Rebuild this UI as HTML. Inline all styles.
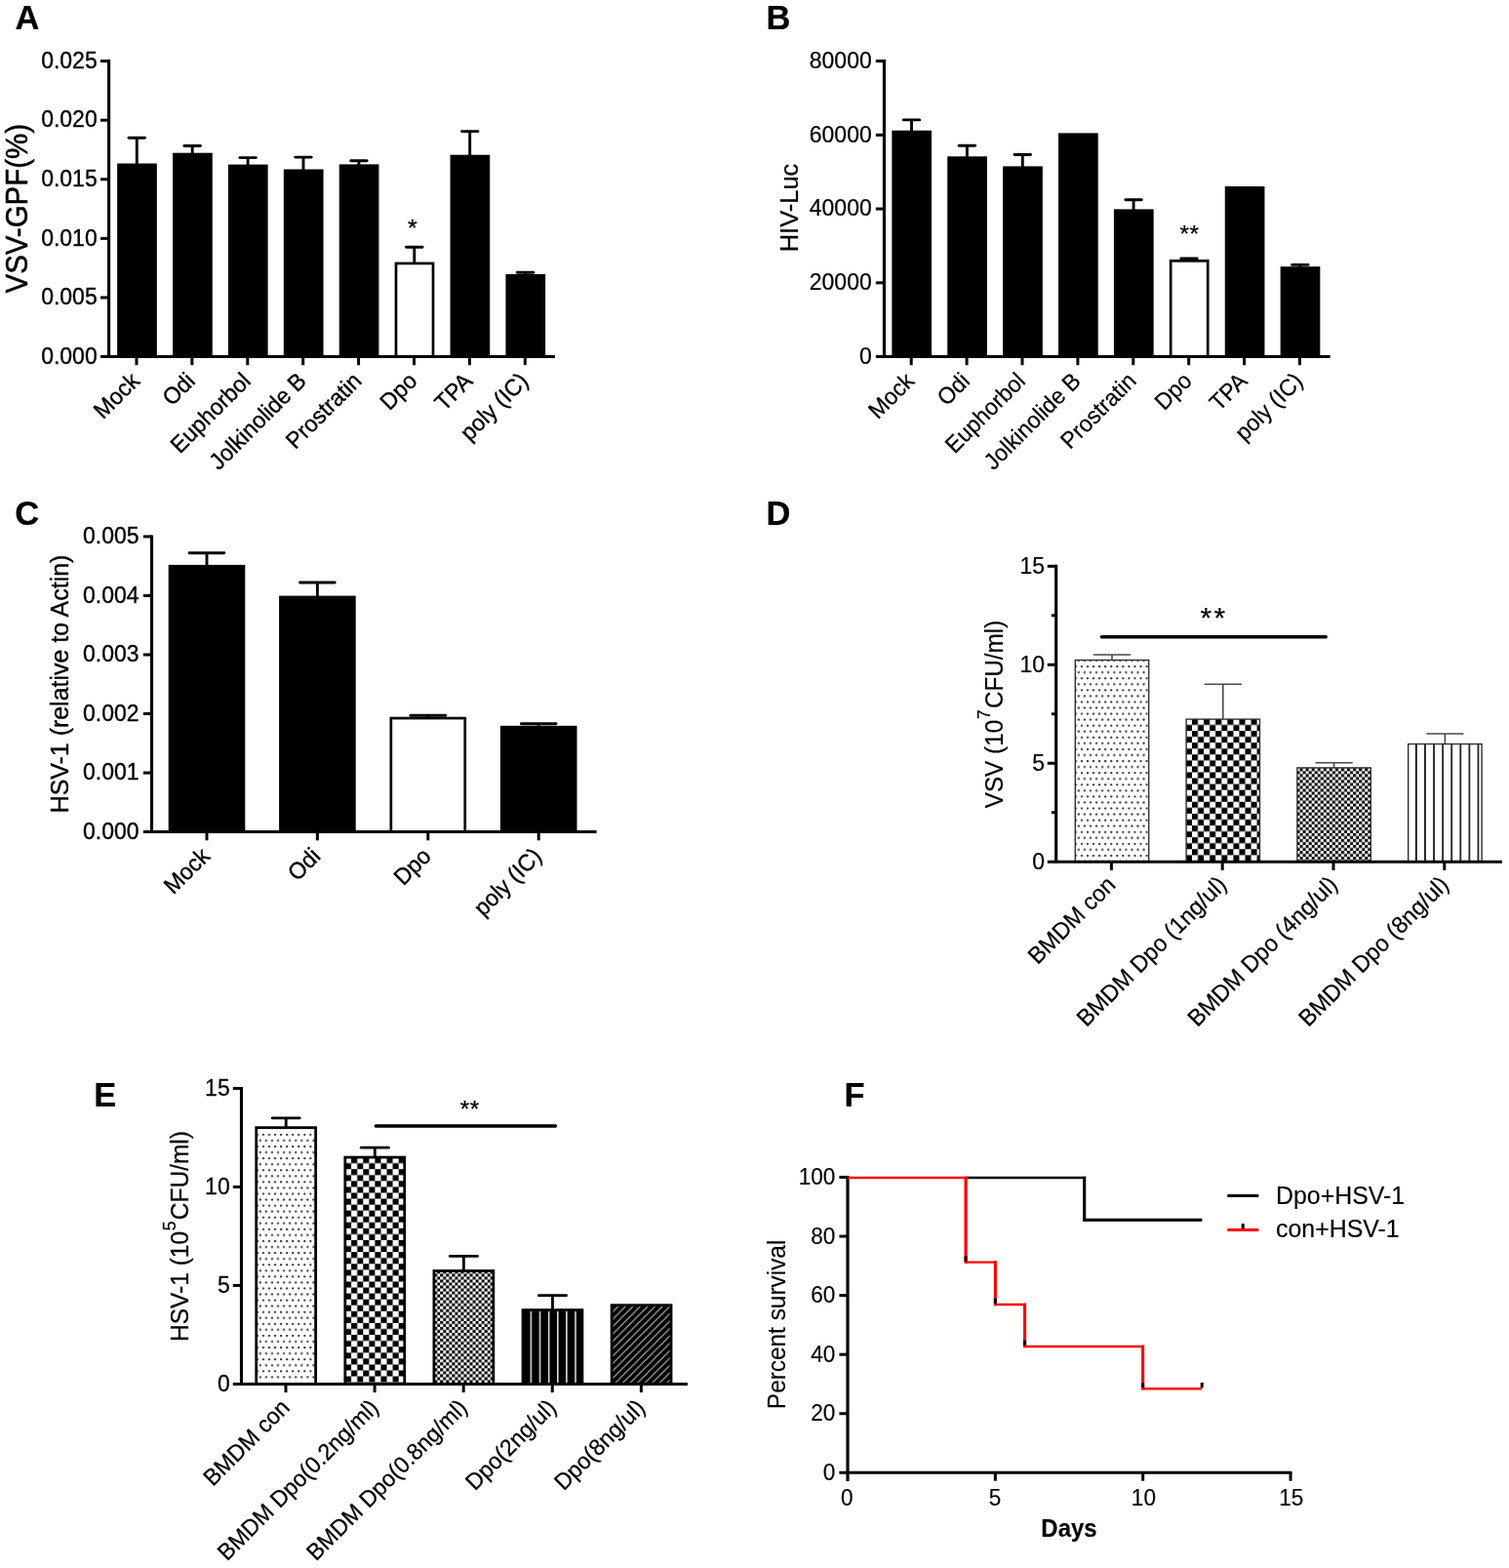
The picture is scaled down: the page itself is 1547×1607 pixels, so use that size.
<!DOCTYPE html>
<html lang="en">
<head>
<meta charset="utf-8">
<title>Figure</title>
<style>html,body{margin:0;padding:0;background:#fff}svg{display:block}</style>
</head>
<body>
<svg width="1547" height="1607" viewBox="0 0 1547 1607" font-family='"Liberation Sans", Arial, Helvetica, sans-serif' fill="#000">
<defs>
<pattern id="dotD" patternUnits="userSpaceOnUse" x="1107.94" y="682.08" width="6.06" height="12.12"><circle cx="1" cy="1" r="1.15" fill="#333"/><circle cx="4.030" cy="7.060" r="1.15" fill="#333"/></pattern>
<pattern id="chkD" patternUnits="userSpaceOnUse" x="1221.94" y="736.87" width="12.126" height="12.126"><rect x="0" y="0" width="6.063" height="6.063" fill="#000"/><rect x="6.063" y="6.063" width="6.063" height="6.063" fill="#000"/></pattern>
<pattern id="fchkD" patternUnits="userSpaceOnUse" x="1332.57" y="787.23" width="6.06" height="6.06"><rect x="0" y="0" width="3.03" height="3.03" fill="#000"/><rect x="3.03" y="3.03" width="3.03" height="3.03" fill="#000"/></pattern>
<pattern id="dotE" patternUnits="userSpaceOnUse" x="268.90" y="1161.93" width="6.06" height="12.12"><circle cx="1" cy="1" r="1.15" fill="#333"/><circle cx="4.030" cy="7.060" r="1.15" fill="#333"/></pattern>
<pattern id="chkE" patternUnits="userSpaceOnUse" x="360.14" y="1186.07" width="12.134" height="12.134"><rect x="0" y="0" width="6.067" height="6.067" fill="#000"/><rect x="6.067" y="6.067" width="6.067" height="6.067" fill="#000"/></pattern>
<pattern id="fchkE" patternUnits="userSpaceOnUse" x="451.22" y="1305.38" width="6.06" height="6.06"><rect x="0" y="0" width="3.03" height="3.03" fill="#000"/><rect x="3.03" y="3.03" width="3.03" height="3.03" fill="#000"/></pattern>
<pattern id="vstrD" patternUnits="userSpaceOnUse" x="1451.03" y="0" width="9.08" height="20"><rect x="0" y="0" width="1.7" height="20" fill="#111"/></pattern>
<pattern id="vstrE" patternUnits="userSpaceOnUse" x="543.55" y="0" width="9.15" height="20"><rect x="0" y="0" width="1.5" height="20" fill="#e8e8e8"/></pattern>
<pattern id="diagE" patternUnits="userSpaceOnUse" x="631.7" y="1416.5" width="7.56" height="7.56"><path d="M-1,1 L1,-1 M0,7.56 L7.56,0 M6.56,8.56 L8.56,6.56" stroke="#c8c8c8" stroke-width="1.1" fill="none"/></pattern>
</defs>
<rect x="0" y="0" width="1547" height="1607" fill="#fff"/>
<text transform="translate(15.50 30.30)" font-size="34.5" text-anchor="start" font-weight="bold" stroke="#000" stroke-width="0.2" stroke-linejoin="round">A</text>
<text transform="translate(785.50 30.30)" font-size="34.5" text-anchor="start" font-weight="bold" stroke="#000" stroke-width="0.2" stroke-linejoin="round">B</text>
<text transform="translate(15.20 537.50)" font-size="34.5" text-anchor="start" font-weight="bold" stroke="#000" stroke-width="0.2" stroke-linejoin="round">C</text>
<text transform="translate(785.50 537.50)" font-size="34.5" text-anchor="start" font-weight="bold" stroke="#000" stroke-width="0.2" stroke-linejoin="round">D</text>
<text transform="translate(96.20 1134.20)" font-size="34.5" text-anchor="start" font-weight="bold" stroke="#000" stroke-width="0.2" stroke-linejoin="round">E</text>
<text transform="translate(865.50 1134.00)" font-size="34.5" text-anchor="start" font-weight="bold" stroke="#000" stroke-width="0.2" stroke-linejoin="round">F</text>
<line x1="140.29" y1="141.20" x2="140.29" y2="168.50" stroke="#000" stroke-width="2.9" stroke-linecap="butt"/>
<line x1="132.05" y1="141.20" x2="148.53" y2="141.20" stroke="#000" stroke-width="2.9" stroke-linecap="round"/>
<rect x="120.14" y="167.50" width="40.70" height="198.05" fill="#000"/>
<line x1="197.19" y1="149.50" x2="197.19" y2="157.70" stroke="#000" stroke-width="2.9" stroke-linecap="butt"/>
<line x1="188.95" y1="149.50" x2="205.43" y2="149.50" stroke="#000" stroke-width="2.9" stroke-linecap="round"/>
<rect x="177.04" y="156.70" width="40.70" height="208.85" fill="#000"/>
<line x1="254.09" y1="161.60" x2="254.09" y2="169.60" stroke="#000" stroke-width="2.9" stroke-linecap="butt"/>
<line x1="245.85" y1="161.60" x2="262.33" y2="161.60" stroke="#000" stroke-width="2.9" stroke-linecap="round"/>
<rect x="233.94" y="168.60" width="40.70" height="196.95" fill="#000"/>
<line x1="310.99" y1="161.10" x2="310.99" y2="174.50" stroke="#000" stroke-width="2.9" stroke-linecap="butt"/>
<line x1="302.75" y1="161.10" x2="319.23" y2="161.10" stroke="#000" stroke-width="2.9" stroke-linecap="round"/>
<rect x="290.84" y="173.50" width="40.70" height="192.05" fill="#000"/>
<line x1="367.89" y1="164.70" x2="367.89" y2="169.40" stroke="#000" stroke-width="2.9" stroke-linecap="butt"/>
<line x1="359.65" y1="164.70" x2="376.13" y2="164.70" stroke="#000" stroke-width="2.9" stroke-linecap="round"/>
<rect x="347.74" y="168.40" width="40.70" height="197.15" fill="#000"/>
<line x1="424.79" y1="253.30" x2="424.79" y2="269.60" stroke="#000" stroke-width="2.9" stroke-linecap="butt"/>
<line x1="416.55" y1="253.30" x2="433.03" y2="253.30" stroke="#000" stroke-width="2.9" stroke-linecap="round"/>
<rect x="405.99" y="269.95" width="38.00" height="95.60" fill="#fff" stroke="#000" stroke-width="2.7"/>
<line x1="481.69" y1="134.60" x2="481.69" y2="159.70" stroke="#000" stroke-width="2.9" stroke-linecap="butt"/>
<line x1="473.45" y1="134.60" x2="489.93" y2="134.60" stroke="#000" stroke-width="2.9" stroke-linecap="round"/>
<rect x="461.54" y="158.70" width="40.70" height="206.85" fill="#000"/>
<line x1="538.59" y1="279.30" x2="538.59" y2="282.00" stroke="#000" stroke-width="2.9" stroke-linecap="butt"/>
<line x1="530.35" y1="279.30" x2="546.83" y2="279.30" stroke="#000" stroke-width="2.9" stroke-linecap="round"/>
<rect x="518.44" y="281.00" width="40.70" height="84.55" fill="#000"/>
<line x1="111.60" y1="61.10" x2="111.60" y2="366.55" stroke="#000" stroke-width="3.15" stroke-linecap="butt"/>
<line x1="103.00" y1="365.55" x2="568.90" y2="365.55" stroke="#000" stroke-width="3.0" stroke-linecap="butt"/>
<line x1="103.00" y1="62.60" x2="111.60" y2="62.60" stroke="#000" stroke-width="3.0" stroke-linecap="butt"/>
<line x1="103.00" y1="123.19" x2="111.60" y2="123.19" stroke="#000" stroke-width="3.0" stroke-linecap="butt"/>
<line x1="103.00" y1="183.78" x2="111.60" y2="183.78" stroke="#000" stroke-width="3.0" stroke-linecap="butt"/>
<line x1="103.00" y1="244.37" x2="111.60" y2="244.37" stroke="#000" stroke-width="3.0" stroke-linecap="butt"/>
<line x1="103.00" y1="304.96" x2="111.60" y2="304.96" stroke="#000" stroke-width="3.0" stroke-linecap="butt"/>
<line x1="139.99" y1="365.55" x2="139.99" y2="374.25" stroke="#000" stroke-width="3.0" stroke-linecap="butt"/>
<line x1="196.89" y1="365.55" x2="196.89" y2="374.25" stroke="#000" stroke-width="3.0" stroke-linecap="butt"/>
<line x1="253.79" y1="365.55" x2="253.79" y2="374.25" stroke="#000" stroke-width="3.0" stroke-linecap="butt"/>
<line x1="310.69" y1="365.55" x2="310.69" y2="374.25" stroke="#000" stroke-width="3.0" stroke-linecap="butt"/>
<line x1="367.59" y1="365.55" x2="367.59" y2="374.25" stroke="#000" stroke-width="3.0" stroke-linecap="butt"/>
<line x1="424.49" y1="365.55" x2="424.49" y2="374.25" stroke="#000" stroke-width="3.0" stroke-linecap="butt"/>
<line x1="481.39" y1="365.55" x2="481.39" y2="374.25" stroke="#000" stroke-width="3.0" stroke-linecap="butt"/>
<line x1="538.29" y1="365.55" x2="538.29" y2="374.25" stroke="#000" stroke-width="3.0" stroke-linecap="butt"/>
<text transform="translate(99.70 69.80) scale(1.0 1.04)" font-size="23.0" text-anchor="end" font-weight="normal" stroke="#000" stroke-width="0.35" stroke-linejoin="round">0.025</text>
<text transform="translate(99.70 130.39) scale(1.0 1.04)" font-size="23.0" text-anchor="end" font-weight="normal" stroke="#000" stroke-width="0.35" stroke-linejoin="round">0.020</text>
<text transform="translate(99.70 190.98) scale(1.0 1.04)" font-size="23.0" text-anchor="end" font-weight="normal" stroke="#000" stroke-width="0.35" stroke-linejoin="round">0.015</text>
<text transform="translate(99.70 251.57) scale(1.0 1.04)" font-size="23.0" text-anchor="end" font-weight="normal" stroke="#000" stroke-width="0.35" stroke-linejoin="round">0.010</text>
<text transform="translate(99.70 312.16) scale(1.0 1.04)" font-size="23.0" text-anchor="end" font-weight="normal" stroke="#000" stroke-width="0.35" stroke-linejoin="round">0.005</text>
<text transform="translate(99.70 372.75) scale(1.0 1.04)" font-size="23.0" text-anchor="end" font-weight="normal" stroke="#000" stroke-width="0.35" stroke-linejoin="round">0.000</text>
<text transform="translate(144.49 391.85) rotate(-45) scale(1.0 1.04)" font-size="22.9" text-anchor="end" font-weight="normal" stroke="#000" stroke-width="0.35" stroke-linejoin="round">Mock</text>
<text transform="translate(201.39 391.85) rotate(-45) scale(1.0 1.04)" font-size="22.9" text-anchor="end" font-weight="normal" stroke="#000" stroke-width="0.35" stroke-linejoin="round">Odi</text>
<text transform="translate(258.29 391.85) rotate(-45) scale(1.0 1.04)" font-size="22.9" text-anchor="end" font-weight="normal" stroke="#000" stroke-width="0.35" stroke-linejoin="round">Euphorbol</text>
<text transform="translate(315.19 391.85) rotate(-45) scale(1.0 1.04)" font-size="22.9" text-anchor="end" font-weight="normal" stroke="#000" stroke-width="0.35" stroke-linejoin="round">Jolkinolide B</text>
<text transform="translate(372.09 391.85) rotate(-45) scale(1.0 1.04)" font-size="22.9" text-anchor="end" font-weight="normal" stroke="#000" stroke-width="0.35" stroke-linejoin="round">Prostratin</text>
<text transform="translate(428.99 391.85) rotate(-45) scale(1.0 1.04)" font-size="22.9" text-anchor="end" font-weight="normal" stroke="#000" stroke-width="0.35" stroke-linejoin="round">Dpo</text>
<text transform="translate(485.89 391.85) rotate(-45) scale(1.0 1.04)" font-size="22.9" text-anchor="end" font-weight="normal" stroke="#000" stroke-width="0.35" stroke-linejoin="round">TPA</text>
<text transform="translate(542.79 391.85) rotate(-45) scale(1.0 1.04)" font-size="22.9" text-anchor="end" font-weight="normal" stroke="#000" stroke-width="0.35" stroke-linejoin="round">poly (IC)</text>
<text transform="translate(27.60 213.70) rotate(-90) scale(1.0 1.04)" font-size="29.5" text-anchor="middle" font-weight="normal" stroke="#000" stroke-width="0.5" stroke-linejoin="round">VSV-GPF(%)</text>
<text transform="translate(422.90 242.10)" font-size="24.8" text-anchor="middle" font-weight="normal" stroke="#000" stroke-width="0.35" stroke-linejoin="round">*</text>
<line x1="934.50" y1="122.90" x2="934.50" y2="134.70" stroke="#000" stroke-width="2.9" stroke-linecap="butt"/>
<line x1="926.26" y1="122.90" x2="942.74" y2="122.90" stroke="#000" stroke-width="2.9" stroke-linecap="round"/>
<rect x="914.35" y="133.70" width="40.70" height="231.85" fill="#000"/>
<line x1="991.40" y1="149.20" x2="991.40" y2="161.30" stroke="#000" stroke-width="2.9" stroke-linecap="butt"/>
<line x1="983.16" y1="149.20" x2="999.64" y2="149.20" stroke="#000" stroke-width="2.9" stroke-linecap="round"/>
<rect x="971.25" y="160.30" width="40.70" height="205.25" fill="#000"/>
<line x1="1048.30" y1="158.50" x2="1048.30" y2="171.40" stroke="#000" stroke-width="2.9" stroke-linecap="butt"/>
<line x1="1040.06" y1="158.50" x2="1056.54" y2="158.50" stroke="#000" stroke-width="2.9" stroke-linecap="round"/>
<rect x="1028.15" y="170.40" width="40.70" height="195.15" fill="#000"/>
<rect x="1085.05" y="136.40" width="40.70" height="229.15" fill="#000"/>
<line x1="1162.10" y1="204.80" x2="1162.10" y2="215.40" stroke="#000" stroke-width="2.9" stroke-linecap="butt"/>
<line x1="1153.86" y1="204.80" x2="1170.34" y2="204.80" stroke="#000" stroke-width="2.9" stroke-linecap="round"/>
<rect x="1141.95" y="214.40" width="40.70" height="151.15" fill="#000"/>
<line x1="1219.00" y1="265.00" x2="1219.00" y2="267.00" stroke="#000" stroke-width="2.9" stroke-linecap="butt"/>
<line x1="1210.76" y1="265.00" x2="1227.24" y2="265.00" stroke="#000" stroke-width="2.9" stroke-linecap="round"/>
<rect x="1200.20" y="267.35" width="38.00" height="98.20" fill="#fff" stroke="#000" stroke-width="2.7"/>
<rect x="1255.75" y="191.00" width="40.70" height="174.55" fill="#000"/>
<line x1="1332.80" y1="271.40" x2="1332.80" y2="274.20" stroke="#000" stroke-width="2.9" stroke-linecap="butt"/>
<line x1="1324.56" y1="271.40" x2="1341.04" y2="271.40" stroke="#000" stroke-width="2.9" stroke-linecap="round"/>
<rect x="1312.65" y="273.20" width="40.70" height="92.35" fill="#000"/>
<line x1="906.45" y1="61.10" x2="906.45" y2="366.55" stroke="#000" stroke-width="3.15" stroke-linecap="butt"/>
<line x1="897.85" y1="365.55" x2="1363.70" y2="365.55" stroke="#000" stroke-width="3.0" stroke-linecap="butt"/>
<line x1="897.85" y1="62.60" x2="906.45" y2="62.60" stroke="#000" stroke-width="3.0" stroke-linecap="butt"/>
<line x1="897.85" y1="138.34" x2="906.45" y2="138.34" stroke="#000" stroke-width="3.0" stroke-linecap="butt"/>
<line x1="897.85" y1="214.07" x2="906.45" y2="214.07" stroke="#000" stroke-width="3.0" stroke-linecap="butt"/>
<line x1="897.85" y1="289.81" x2="906.45" y2="289.81" stroke="#000" stroke-width="3.0" stroke-linecap="butt"/>
<line x1="934.20" y1="365.55" x2="934.20" y2="374.25" stroke="#000" stroke-width="3.0" stroke-linecap="butt"/>
<line x1="991.10" y1="365.55" x2="991.10" y2="374.25" stroke="#000" stroke-width="3.0" stroke-linecap="butt"/>
<line x1="1048.00" y1="365.55" x2="1048.00" y2="374.25" stroke="#000" stroke-width="3.0" stroke-linecap="butt"/>
<line x1="1104.90" y1="365.55" x2="1104.90" y2="374.25" stroke="#000" stroke-width="3.0" stroke-linecap="butt"/>
<line x1="1161.80" y1="365.55" x2="1161.80" y2="374.25" stroke="#000" stroke-width="3.0" stroke-linecap="butt"/>
<line x1="1218.70" y1="365.55" x2="1218.70" y2="374.25" stroke="#000" stroke-width="3.0" stroke-linecap="butt"/>
<line x1="1275.60" y1="365.55" x2="1275.60" y2="374.25" stroke="#000" stroke-width="3.0" stroke-linecap="butt"/>
<line x1="1332.50" y1="365.55" x2="1332.50" y2="374.25" stroke="#000" stroke-width="3.0" stroke-linecap="butt"/>
<text transform="translate(893.70 69.80) scale(1.0 1.04)" font-size="23.0" text-anchor="end" font-weight="normal" stroke="#000" stroke-width="0.22" stroke-linejoin="round">80000</text>
<text transform="translate(893.70 145.54) scale(1.0 1.04)" font-size="23.0" text-anchor="end" font-weight="normal" stroke="#000" stroke-width="0.22" stroke-linejoin="round">60000</text>
<text transform="translate(893.70 221.27) scale(1.0 1.04)" font-size="23.0" text-anchor="end" font-weight="normal" stroke="#000" stroke-width="0.22" stroke-linejoin="round">40000</text>
<text transform="translate(893.70 297.01) scale(1.0 1.04)" font-size="23.0" text-anchor="end" font-weight="normal" stroke="#000" stroke-width="0.22" stroke-linejoin="round">20000</text>
<text transform="translate(893.70 372.75) scale(1.0 1.04)" font-size="23.0" text-anchor="end" font-weight="normal" stroke="#000" stroke-width="0.22" stroke-linejoin="round">0</text>
<text transform="translate(938.70 391.85) rotate(-45) scale(1.0 1.04)" font-size="22.9" text-anchor="end" font-weight="normal" stroke="#000" stroke-width="0.22" stroke-linejoin="round">Mock</text>
<text transform="translate(995.60 391.85) rotate(-45) scale(1.0 1.04)" font-size="22.9" text-anchor="end" font-weight="normal" stroke="#000" stroke-width="0.22" stroke-linejoin="round">Odi</text>
<text transform="translate(1052.50 391.85) rotate(-45) scale(1.0 1.04)" font-size="22.9" text-anchor="end" font-weight="normal" stroke="#000" stroke-width="0.22" stroke-linejoin="round">Euphorbol</text>
<text transform="translate(1109.40 391.85) rotate(-45) scale(1.0 1.04)" font-size="22.9" text-anchor="end" font-weight="normal" stroke="#000" stroke-width="0.22" stroke-linejoin="round">Jolkinolide B</text>
<text transform="translate(1166.30 391.85) rotate(-45) scale(1.0 1.04)" font-size="22.9" text-anchor="end" font-weight="normal" stroke="#000" stroke-width="0.22" stroke-linejoin="round">Prostratin</text>
<text transform="translate(1223.20 391.85) rotate(-45) scale(1.0 1.04)" font-size="22.9" text-anchor="end" font-weight="normal" stroke="#000" stroke-width="0.22" stroke-linejoin="round">Dpo</text>
<text transform="translate(1280.10 391.85) rotate(-45) scale(1.0 1.04)" font-size="22.9" text-anchor="end" font-weight="normal" stroke="#000" stroke-width="0.22" stroke-linejoin="round">TPA</text>
<text transform="translate(1337.00 391.85) rotate(-45) scale(1.0 1.04)" font-size="22.9" text-anchor="end" font-weight="normal" stroke="#000" stroke-width="0.22" stroke-linejoin="round">poly (IC)</text>
<text transform="translate(818.40 213.00) rotate(-90) scale(1.0 1.04)" font-size="25.5" text-anchor="middle" font-weight="normal" stroke="#000" stroke-width="0.22" stroke-linejoin="round">HIV-Luc</text>
<text transform="translate(1219.60 247.60)" font-size="24.5" text-anchor="middle" font-weight="normal" stroke="#000" stroke-width="0.22" stroke-linejoin="round" letter-spacing="0.6">**</text>
<line x1="212.00" y1="566.80" x2="212.00" y2="579.90" stroke="#000" stroke-width="2.9" stroke-linecap="butt"/>
<line x1="194.16" y1="566.80" x2="229.84" y2="566.80" stroke="#000" stroke-width="2.9" stroke-linecap="round"/>
<rect x="172.70" y="578.90" width="78.60" height="273.70" fill="#000"/>
<line x1="325.40" y1="597.00" x2="325.40" y2="611.60" stroke="#000" stroke-width="2.9" stroke-linecap="butt"/>
<line x1="307.56" y1="597.00" x2="343.24" y2="597.00" stroke="#000" stroke-width="2.9" stroke-linecap="round"/>
<rect x="286.10" y="610.60" width="78.60" height="242.00" fill="#000"/>
<line x1="438.80" y1="733.30" x2="438.80" y2="735.70" stroke="#000" stroke-width="2.9" stroke-linecap="butt"/>
<line x1="420.96" y1="733.30" x2="456.64" y2="733.30" stroke="#000" stroke-width="2.9" stroke-linecap="round"/>
<rect x="400.85" y="736.05" width="75.90" height="116.55" fill="#fff" stroke="#000" stroke-width="2.7"/>
<line x1="552.20" y1="741.70" x2="552.20" y2="744.80" stroke="#000" stroke-width="2.9" stroke-linecap="butt"/>
<line x1="534.36" y1="741.70" x2="570.04" y2="741.70" stroke="#000" stroke-width="2.9" stroke-linecap="round"/>
<rect x="512.90" y="743.80" width="78.60" height="108.80" fill="#000"/>
<line x1="155.50" y1="548.40" x2="155.50" y2="853.60" stroke="#000" stroke-width="3.15" stroke-linecap="butt"/>
<line x1="146.90" y1="852.60" x2="611.60" y2="852.60" stroke="#000" stroke-width="3.0" stroke-linecap="butt"/>
<line x1="146.90" y1="549.90" x2="155.50" y2="549.90" stroke="#000" stroke-width="3.0" stroke-linecap="butt"/>
<line x1="146.90" y1="610.44" x2="155.50" y2="610.44" stroke="#000" stroke-width="3.0" stroke-linecap="butt"/>
<line x1="146.90" y1="670.98" x2="155.50" y2="670.98" stroke="#000" stroke-width="3.0" stroke-linecap="butt"/>
<line x1="146.90" y1="731.52" x2="155.50" y2="731.52" stroke="#000" stroke-width="3.0" stroke-linecap="butt"/>
<line x1="146.90" y1="792.06" x2="155.50" y2="792.06" stroke="#000" stroke-width="3.0" stroke-linecap="butt"/>
<line x1="212.00" y1="852.60" x2="212.00" y2="861.30" stroke="#000" stroke-width="3.0" stroke-linecap="butt"/>
<line x1="325.40" y1="852.60" x2="325.40" y2="861.30" stroke="#000" stroke-width="3.0" stroke-linecap="butt"/>
<line x1="438.80" y1="852.60" x2="438.80" y2="861.30" stroke="#000" stroke-width="3.0" stroke-linecap="butt"/>
<line x1="552.20" y1="852.60" x2="552.20" y2="861.30" stroke="#000" stroke-width="3.0" stroke-linecap="butt"/>
<text transform="translate(142.50 557.30) scale(1.0 1.04)" font-size="23.0" text-anchor="end" font-weight="normal" stroke="#000" stroke-width="0.35" stroke-linejoin="round">0.005</text>
<text transform="translate(142.50 617.84) scale(1.0 1.04)" font-size="23.0" text-anchor="end" font-weight="normal" stroke="#000" stroke-width="0.35" stroke-linejoin="round">0.004</text>
<text transform="translate(142.50 678.38) scale(1.0 1.04)" font-size="23.0" text-anchor="end" font-weight="normal" stroke="#000" stroke-width="0.35" stroke-linejoin="round">0.003</text>
<text transform="translate(142.50 738.92) scale(1.0 1.04)" font-size="23.0" text-anchor="end" font-weight="normal" stroke="#000" stroke-width="0.35" stroke-linejoin="round">0.002</text>
<text transform="translate(142.50 799.46) scale(1.0 1.04)" font-size="23.0" text-anchor="end" font-weight="normal" stroke="#000" stroke-width="0.35" stroke-linejoin="round">0.001</text>
<text transform="translate(142.50 860.00) scale(1.0 1.04)" font-size="23.0" text-anchor="end" font-weight="normal" stroke="#000" stroke-width="0.35" stroke-linejoin="round">0.000</text>
<text transform="translate(216.50 878.90) rotate(-45) scale(1.0 1.04)" font-size="22.9" text-anchor="end" font-weight="normal" stroke="#000" stroke-width="0.35" stroke-linejoin="round">Mock</text>
<text transform="translate(329.90 878.90) rotate(-45) scale(1.0 1.04)" font-size="22.9" text-anchor="end" font-weight="normal" stroke="#000" stroke-width="0.35" stroke-linejoin="round">Odi</text>
<text transform="translate(443.30 878.90) rotate(-45) scale(1.0 1.04)" font-size="22.9" text-anchor="end" font-weight="normal" stroke="#000" stroke-width="0.35" stroke-linejoin="round">Dpo</text>
<text transform="translate(556.70 878.90) rotate(-45) scale(1.0 1.04)" font-size="22.9" text-anchor="end" font-weight="normal" stroke="#000" stroke-width="0.35" stroke-linejoin="round">poly (IC)</text>
<text transform="translate(69.80 701.00) rotate(-90) scale(1.0 1.04)" font-size="24.95" text-anchor="middle" font-weight="normal" stroke="#000" stroke-width="0.35" stroke-linejoin="round">HSV-1 (relative to Actin)</text>
<line x1="1140.00" y1="671.00" x2="1140.00" y2="676.90" stroke="#4a4a4a" stroke-width="1.6" stroke-linecap="butt"/>
<line x1="1121.44" y1="671.00" x2="1158.56" y2="671.00" stroke="#4a4a4a" stroke-width="1.6" stroke-linecap="round"/>
<rect x="1102.30" y="676.50" width="75.40" height="206.70" fill="#fff"/>
<rect x="1102.30" y="676.50" width="75.40" height="206.70" fill="url(#dotD)" stroke="#2a2a2a" stroke-width="1.35"/>
<line x1="1253.80" y1="701.30" x2="1253.80" y2="737.50" stroke="#4a4a4a" stroke-width="1.6" stroke-linecap="butt"/>
<line x1="1235.24" y1="701.30" x2="1272.36" y2="701.30" stroke="#4a4a4a" stroke-width="1.6" stroke-linecap="round"/>
<rect x="1216.10" y="737.10" width="75.40" height="146.10" fill="#fff"/>
<rect x="1216.10" y="737.10" width="75.40" height="146.10" fill="url(#chkD)" stroke="#2a2a2a" stroke-width="1.35"/>
<line x1="1367.60" y1="781.70" x2="1367.60" y2="787.30" stroke="#4a4a4a" stroke-width="1.6" stroke-linecap="butt"/>
<line x1="1349.04" y1="781.70" x2="1386.16" y2="781.70" stroke="#4a4a4a" stroke-width="1.6" stroke-linecap="round"/>
<rect x="1329.90" y="786.90" width="75.40" height="96.30" fill="#fff"/>
<rect x="1329.90" y="786.90" width="75.40" height="96.30" fill="url(#fchkD)" stroke="#2a2a2a" stroke-width="1.35"/>
<line x1="1481.40" y1="752.00" x2="1481.40" y2="762.90" stroke="#4a4a4a" stroke-width="1.6" stroke-linecap="butt"/>
<line x1="1462.84" y1="752.00" x2="1499.96" y2="752.00" stroke="#4a4a4a" stroke-width="1.6" stroke-linecap="round"/>
<rect x="1443.70" y="762.50" width="75.40" height="120.70" fill="#fff"/>
<rect x="1443.70" y="762.50" width="75.40" height="120.70" fill="url(#vstrD)" stroke="#2a2a2a" stroke-width="1.35"/>
<line x1="1082.70" y1="578.80" x2="1082.70" y2="884.20" stroke="#000" stroke-width="3.15" stroke-linecap="butt"/>
<line x1="1073.80" y1="883.20" x2="1540.00" y2="883.20" stroke="#000" stroke-width="3.0" stroke-linecap="butt"/>
<line x1="1073.80" y1="580.30" x2="1082.70" y2="580.30" stroke="#000" stroke-width="3.0" stroke-linecap="butt"/>
<line x1="1073.80" y1="681.27" x2="1082.70" y2="681.27" stroke="#000" stroke-width="3.0" stroke-linecap="butt"/>
<line x1="1073.80" y1="782.23" x2="1082.70" y2="782.23" stroke="#000" stroke-width="3.0" stroke-linecap="butt"/>
<line x1="1077.90" y1="630.78" x2="1082.70" y2="630.78" stroke="#000" stroke-width="2.9" stroke-linecap="butt"/>
<line x1="1077.90" y1="731.75" x2="1082.70" y2="731.75" stroke="#000" stroke-width="2.9" stroke-linecap="butt"/>
<line x1="1077.90" y1="832.72" x2="1082.70" y2="832.72" stroke="#000" stroke-width="2.9" stroke-linecap="butt"/>
<line x1="1139.40" y1="883.20" x2="1139.40" y2="891.90" stroke="#000" stroke-width="3.0" stroke-linecap="butt"/>
<line x1="1253.20" y1="883.20" x2="1253.20" y2="891.90" stroke="#000" stroke-width="3.0" stroke-linecap="butt"/>
<line x1="1367.00" y1="883.20" x2="1367.00" y2="891.90" stroke="#000" stroke-width="3.0" stroke-linecap="butt"/>
<line x1="1480.80" y1="883.20" x2="1480.80" y2="891.90" stroke="#000" stroke-width="3.0" stroke-linecap="butt"/>
<text transform="translate(1071.00 587.70) scale(1.0 1.04)" font-size="23.0" text-anchor="end" font-weight="normal" stroke="#000" stroke-width="0.2" stroke-linejoin="round">15</text>
<text transform="translate(1071.00 688.67) scale(1.0 1.04)" font-size="23.0" text-anchor="end" font-weight="normal" stroke="#000" stroke-width="0.2" stroke-linejoin="round">10</text>
<text transform="translate(1071.00 789.63) scale(1.0 1.04)" font-size="23.0" text-anchor="end" font-weight="normal" stroke="#000" stroke-width="0.2" stroke-linejoin="round">5</text>
<text transform="translate(1071.00 890.60) scale(1.0 1.04)" font-size="23.0" text-anchor="end" font-weight="normal" stroke="#000" stroke-width="0.2" stroke-linejoin="round">0</text>
<text transform="translate(1145.00 908.10) rotate(-45) scale(1.0 1.04)" font-size="23.25" text-anchor="end" font-weight="normal" stroke="#000" stroke-width="0.2" stroke-linejoin="round">BMDM con</text>
<text transform="translate(1258.80 908.10) rotate(-45) scale(1.0 1.04)" font-size="23.25" text-anchor="end" font-weight="normal" stroke="#000" stroke-width="0.2" stroke-linejoin="round">BMDM Dpo (1ng/ul)</text>
<text transform="translate(1372.60 908.10) rotate(-45) scale(1.0 1.04)" font-size="23.25" text-anchor="end" font-weight="normal" stroke="#000" stroke-width="0.2" stroke-linejoin="round">BMDM Dpo (4ng/ul)</text>
<text transform="translate(1486.40 908.10) rotate(-45) scale(1.0 1.04)" font-size="23.25" text-anchor="end" font-weight="normal" stroke="#000" stroke-width="0.2" stroke-linejoin="round">BMDM Dpo (8ng/ul)</text>
<text transform="translate(1028.10 732.00) rotate(-90) scale(1.0 1.04)" font-size="24.3" text-anchor="middle" font-weight="normal" stroke="#000" stroke-width="0.2" stroke-linejoin="round">VSV (10<tspan font-size="17.5" dy="-12.3" dx="0.8">7</tspan><tspan dy="12.3" dx="1.2">CFU/ml)</tspan></text>
<line x1="1129.40" y1="652.70" x2="1359.30" y2="652.70" stroke="#000" stroke-width="3.4" stroke-linecap="round"/>
<text transform="translate(1244.60 642.90)" font-size="30" text-anchor="middle" font-weight="normal" stroke="#000" stroke-width="0.2" stroke-linejoin="round" letter-spacing="2.4">**</text>
<line x1="293.20" y1="1145.80" x2="293.20" y2="1155.30" stroke="#000" stroke-width="2.8" stroke-linecap="butt"/>
<line x1="279.12" y1="1145.80" x2="307.28" y2="1145.80" stroke="#000" stroke-width="2.8" stroke-linecap="round"/>
<rect x="262.75" y="1155.70" width="60.90" height="262.70" fill="#fff"/>
<rect x="262.75" y="1159.30" width="60.90" height="255.90" fill="url(#dotE)"/>
<rect x="262.75" y="1155.70" width="60.90" height="262.70" fill="none" stroke="#000" stroke-width="2.8"/>
<line x1="384.29" y1="1176.20" x2="384.29" y2="1185.70" stroke="#000" stroke-width="2.8" stroke-linecap="butt"/>
<line x1="370.21" y1="1176.20" x2="398.37" y2="1176.20" stroke="#000" stroke-width="2.8" stroke-linecap="round"/>
<rect x="353.84" y="1186.10" width="60.90" height="232.30" fill="#fff"/>
<rect x="353.84" y="1186.10" width="60.90" height="232.30" fill="url(#chkE)"/>
<rect x="353.84" y="1186.10" width="60.90" height="232.30" fill="none" stroke="#000" stroke-width="2.8"/>
<line x1="475.38" y1="1287.40" x2="475.38" y2="1302.10" stroke="#000" stroke-width="2.8" stroke-linecap="butt"/>
<line x1="461.30" y1="1287.40" x2="489.46" y2="1287.40" stroke="#000" stroke-width="2.8" stroke-linecap="round"/>
<rect x="444.93" y="1302.50" width="60.90" height="115.90" fill="#fff"/>
<rect x="444.93" y="1302.50" width="60.90" height="115.90" fill="url(#fchkE)"/>
<rect x="444.93" y="1302.50" width="60.90" height="115.90" fill="none" stroke="#000" stroke-width="2.8"/>
<line x1="566.47" y1="1327.70" x2="566.47" y2="1342.20" stroke="#000" stroke-width="2.8" stroke-linecap="butt"/>
<line x1="552.39" y1="1327.70" x2="580.55" y2="1327.70" stroke="#000" stroke-width="2.8" stroke-linecap="round"/>
<rect x="536.02" y="1342.60" width="60.90" height="75.80" fill="#000"/>
<rect x="536.02" y="1342.60" width="60.90" height="75.80" fill="url(#vstrE)"/>
<rect x="536.02" y="1342.60" width="60.90" height="75.80" fill="none" stroke="#000" stroke-width="2.8"/>
<rect x="627.11" y="1337.70" width="60.90" height="80.70" fill="#000"/>
<rect x="627.11" y="1337.70" width="60.90" height="80.70" fill="url(#diagE)"/>
<rect x="627.11" y="1337.70" width="60.90" height="80.70" fill="none" stroke="#000" stroke-width="2.8"/>
<line x1="247.50" y1="1113.95" x2="247.50" y2="1419.40" stroke="#000" stroke-width="3.15" stroke-linecap="butt"/>
<line x1="238.80" y1="1418.40" x2="704.90" y2="1418.40" stroke="#000" stroke-width="3.0" stroke-linecap="butt"/>
<line x1="238.80" y1="1115.45" x2="247.50" y2="1115.45" stroke="#000" stroke-width="3.0" stroke-linecap="butt"/>
<line x1="238.80" y1="1216.43" x2="247.50" y2="1216.43" stroke="#000" stroke-width="3.0" stroke-linecap="butt"/>
<line x1="238.80" y1="1317.42" x2="247.50" y2="1317.42" stroke="#000" stroke-width="3.0" stroke-linecap="butt"/>
<line x1="293.00" y1="1418.40" x2="293.00" y2="1427.10" stroke="#000" stroke-width="3.0" stroke-linecap="butt"/>
<line x1="384.09" y1="1418.40" x2="384.09" y2="1427.10" stroke="#000" stroke-width="3.0" stroke-linecap="butt"/>
<line x1="475.18" y1="1418.40" x2="475.18" y2="1427.10" stroke="#000" stroke-width="3.0" stroke-linecap="butt"/>
<line x1="566.27" y1="1418.40" x2="566.27" y2="1427.10" stroke="#000" stroke-width="3.0" stroke-linecap="butt"/>
<line x1="657.36" y1="1418.40" x2="657.36" y2="1427.10" stroke="#000" stroke-width="3.0" stroke-linecap="butt"/>
<text transform="translate(235.70 1123.15) scale(1.0 1.04)" font-size="23.0" text-anchor="end" font-weight="normal" stroke="#000" stroke-width="0.25" stroke-linejoin="round">15</text>
<text transform="translate(235.70 1224.13) scale(1.0 1.04)" font-size="23.0" text-anchor="end" font-weight="normal" stroke="#000" stroke-width="0.25" stroke-linejoin="round">10</text>
<text transform="translate(235.70 1325.12) scale(1.0 1.04)" font-size="23.0" text-anchor="end" font-weight="normal" stroke="#000" stroke-width="0.25" stroke-linejoin="round">5</text>
<text transform="translate(235.70 1426.10) scale(1.0 1.04)" font-size="23.0" text-anchor="end" font-weight="normal" stroke="#000" stroke-width="0.25" stroke-linejoin="round">0</text>
<text transform="translate(298.30 1444.00) rotate(-45) scale(1.0 1.04)" font-size="22.9" text-anchor="end" font-weight="normal" stroke="#000" stroke-width="0.25" stroke-linejoin="round">BMDM con</text>
<text transform="translate(389.39 1444.00) rotate(-45) scale(1.0 1.04)" font-size="22.9" text-anchor="end" font-weight="normal" stroke="#000" stroke-width="0.25" stroke-linejoin="round">BMDM Dpo(0.2ng/ml)</text>
<text transform="translate(480.48 1444.00) rotate(-45) scale(1.0 1.04)" font-size="22.9" text-anchor="end" font-weight="normal" stroke="#000" stroke-width="0.25" stroke-linejoin="round">BMDM Dpo(0.8ng/ml)</text>
<text transform="translate(571.57 1444.00) rotate(-45) scale(1.0 1.04)" font-size="22.9" text-anchor="end" font-weight="normal" stroke="#000" stroke-width="0.25" stroke-linejoin="round">Dpo(2ng/ul)</text>
<text transform="translate(662.66 1444.00) rotate(-45) scale(1.0 1.04)" font-size="22.9" text-anchor="end" font-weight="normal" stroke="#000" stroke-width="0.25" stroke-linejoin="round">Dpo(8ng/ul)</text>
<text transform="translate(193.00 1267.00) rotate(-90) scale(1.0 1.04)" font-size="24.5" text-anchor="middle" font-weight="normal" stroke="#000" stroke-width="0.25" stroke-linejoin="round">HSV-1 (10<tspan font-size="17.5" dy="-12.3" dx="0.8">5</tspan><tspan dy="12.3" dx="1.2">CFU/ml)</tspan></text>
<line x1="385.20" y1="1154.00" x2="569.60" y2="1154.00" stroke="#000" stroke-width="3.3" stroke-linecap="round"/>
<text transform="translate(481.80 1145.00)" font-size="24.5" text-anchor="middle" font-weight="normal" stroke="#000" stroke-width="0.25" stroke-linejoin="round" letter-spacing="0.6">**</text>
<line x1="869.00" y1="1205.00" x2="869.00" y2="1517.90" stroke="#000" stroke-width="3.2" stroke-linecap="butt"/>
<line x1="860.40" y1="1509.30" x2="1324.40" y2="1509.30" stroke="#000" stroke-width="3.0" stroke-linecap="butt"/>
<line x1="860.40" y1="1206.50" x2="869.00" y2="1206.50" stroke="#000" stroke-width="3.0" stroke-linecap="butt"/>
<line x1="860.40" y1="1267.06" x2="869.00" y2="1267.06" stroke="#000" stroke-width="3.0" stroke-linecap="butt"/>
<line x1="860.40" y1="1327.62" x2="869.00" y2="1327.62" stroke="#000" stroke-width="3.0" stroke-linecap="butt"/>
<line x1="860.40" y1="1388.18" x2="869.00" y2="1388.18" stroke="#000" stroke-width="3.0" stroke-linecap="butt"/>
<line x1="860.40" y1="1448.74" x2="869.00" y2="1448.74" stroke="#000" stroke-width="3.0" stroke-linecap="butt"/>
<line x1="1020.35" y1="1509.30" x2="1020.35" y2="1517.70" stroke="#000" stroke-width="3.0" stroke-linecap="butt"/>
<line x1="1171.70" y1="1509.30" x2="1171.70" y2="1517.70" stroke="#000" stroke-width="3.0" stroke-linecap="butt"/>
<line x1="1323.05" y1="1509.30" x2="1323.05" y2="1517.70" stroke="#000" stroke-width="3.0" stroke-linecap="butt"/>
<polyline points="990.08,1207.00 1111.77,1207.00 1111.77,1250.30 1232.24,1250.30" fill="none" stroke="#000" stroke-width="2.45" stroke-linejoin="miter"/>
<line x1="1111.77" y1="1205.78" x2="1111.77" y2="1251.53" stroke="#000" stroke-width="3.0" stroke-linecap="butt"/>
<line x1="1110.27" y1="1250.30" x2="1232.24" y2="1250.30" stroke="#000" stroke-width="2.9" stroke-linecap="butt"/>
<polyline points="869.00,1207.00 990.08,1207.00 990.08,1293.60 1020.35,1293.60 1020.35,1336.90 1050.62,1336.90 1050.62,1379.90 1171.70,1379.90 1171.70,1423.20 1232.24,1423.20" fill="none" stroke="#f00" stroke-width="2.45" stroke-linejoin="miter"/>
<line x1="990.08" y1="1205.78" x2="990.08" y2="1294.83" stroke="#f00" stroke-width="3.0" stroke-linecap="butt"/>
<line x1="1020.35" y1="1292.38" x2="1020.35" y2="1338.13" stroke="#f00" stroke-width="3.0" stroke-linecap="butt"/>
<line x1="1050.62" y1="1335.68" x2="1050.62" y2="1381.12" stroke="#f00" stroke-width="3.0" stroke-linecap="butt"/>
<line x1="1171.70" y1="1378.67" x2="1171.70" y2="1424.42" stroke="#f00" stroke-width="3.0" stroke-linecap="butt"/>
<line x1="990.08" y1="1287.40" x2="990.08" y2="1292.60" stroke="#000" stroke-width="3.0" stroke-linecap="butt"/>
<line x1="1020.35" y1="1330.70" x2="1020.35" y2="1335.90" stroke="#000" stroke-width="3.0" stroke-linecap="butt"/>
<line x1="1050.62" y1="1373.70" x2="1050.62" y2="1378.90" stroke="#000" stroke-width="3.0" stroke-linecap="butt"/>
<line x1="1171.70" y1="1417.00" x2="1171.70" y2="1422.20" stroke="#000" stroke-width="3.0" stroke-linecap="butt"/>
<line x1="1232.24" y1="1417.00" x2="1232.24" y2="1422.20" stroke="#000" stroke-width="3.0" stroke-linecap="butt"/>
<text transform="translate(856.40 1214.10) scale(1.0 1.04)" font-size="22.6" text-anchor="end" font-weight="normal" stroke="#000" stroke-width="0.15" stroke-linejoin="round">100</text>
<text transform="translate(856.40 1274.66) scale(1.0 1.04)" font-size="22.6" text-anchor="end" font-weight="normal" stroke="#000" stroke-width="0.15" stroke-linejoin="round">80</text>
<text transform="translate(856.40 1335.22) scale(1.0 1.04)" font-size="22.6" text-anchor="end" font-weight="normal" stroke="#000" stroke-width="0.15" stroke-linejoin="round">60</text>
<text transform="translate(856.40 1395.78) scale(1.0 1.04)" font-size="22.6" text-anchor="end" font-weight="normal" stroke="#000" stroke-width="0.15" stroke-linejoin="round">40</text>
<text transform="translate(856.40 1456.34) scale(1.0 1.04)" font-size="22.6" text-anchor="end" font-weight="normal" stroke="#000" stroke-width="0.15" stroke-linejoin="round">20</text>
<text transform="translate(856.40 1516.90) scale(1.0 1.04)" font-size="22.6" text-anchor="end" font-weight="normal" stroke="#000" stroke-width="0.15" stroke-linejoin="round">0</text>
<text transform="translate(868.40 1543.20) scale(1.0 1.04)" font-size="22.6" text-anchor="middle" font-weight="normal" stroke="#000" stroke-width="0.15" stroke-linejoin="round">0</text>
<text transform="translate(1020.05 1543.20) scale(1.0 1.04)" font-size="22.6" text-anchor="middle" font-weight="normal" stroke="#000" stroke-width="0.15" stroke-linejoin="round">5</text>
<text transform="translate(1172.40 1543.20) scale(1.0 1.04)" font-size="22.6" text-anchor="middle" font-weight="normal" stroke="#000" stroke-width="0.15" stroke-linejoin="round">10</text>
<text transform="translate(1323.75 1543.20) scale(1.0 1.04)" font-size="22.6" text-anchor="middle" font-weight="normal" stroke="#000" stroke-width="0.15" stroke-linejoin="round">15</text>
<text transform="translate(1096.00 1574.60) scale(1.0 1.04)" font-size="24" text-anchor="middle" font-weight="bold" stroke="#000" stroke-width="0.15" stroke-linejoin="round">Days</text>
<text transform="translate(804.60 1357.40) rotate(-90) scale(1.0 1.04)" font-size="24.4" text-anchor="middle" font-weight="normal" stroke="#000" stroke-width="0.15" stroke-linejoin="round">Percent survival</text>
<line x1="1258.30" y1="1225.40" x2="1290.30" y2="1225.40" stroke="#000" stroke-width="3.0" stroke-linecap="butt"/>
<line x1="1258.30" y1="1260.40" x2="1290.30" y2="1260.40" stroke="#f00" stroke-width="3.0" stroke-linecap="butt"/>
<line x1="1274.20" y1="1254.00" x2="1274.20" y2="1259.20" stroke="#000" stroke-width="3.0" stroke-linecap="butt"/>
<text transform="translate(1308.00 1233.70) scale(1.0 1.04)" font-size="24.9" text-anchor="start" font-weight="normal" stroke="#000" stroke-width="0.15" stroke-linejoin="round">Dpo+HSV-1</text>
<text transform="translate(1308.00 1268.30) scale(1.0 1.04)" font-size="24.9" text-anchor="start" font-weight="normal" stroke="#000" stroke-width="0.15" stroke-linejoin="round">con+HSV-1</text>
</svg>
</body>
</html>
